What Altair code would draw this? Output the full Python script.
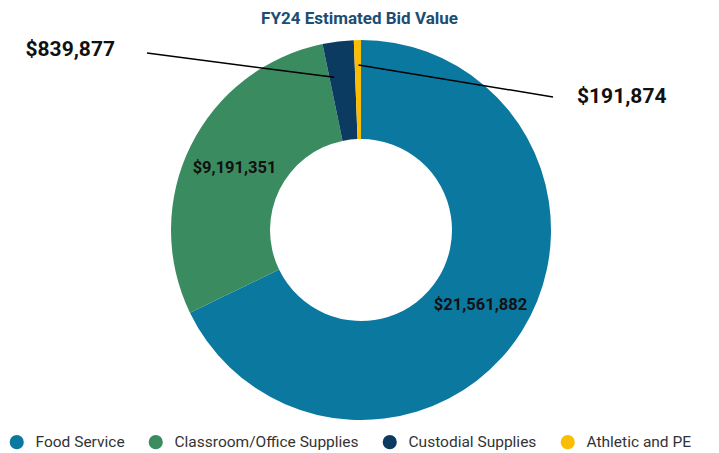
import math
import altair as alt
import pandas as pd

# ---- data ----
categories = ["Food Service", "Classroom/Office Supplies", "Custodial Supplies", "Athletic and PE"]
values = [21561882, 9191351, 839877, 191874]
colors = ["#0b78a0", "#3a8c60", "#0c3b62", "#fbbc04"]
label_inside = [True, True, False, False]

# ---- layout constants ----
W, H = 703, 415
PAD_TOP = 30
CX, CY = 353, 192
R_OUT, R_IN = 190, 91
R_LABEL = 141
FONT = "Roboto"

total = sum(values)
df = pd.DataFrame({"category": categories, "value": values, "order": list(range(len(values)))})
df["label"] = [("$" + f"{v:,}") if ins else "" for v, ins in zip(values, label_inside)]

# leader lines for the small slices: start inside the slice (angle derived from data)
starts = []
acc = 0
for v in values:
    starts.append(acc)
    acc += v
anchor_frac = {2: 0.18, 3: 0.6}
anchor_r = {2: 155, 3: 165}
label_end = {2: (139, 15), 3: (545, 59)}          # outer end of leader line (px)
label_pos = {2: (107, 12, "right"), 3: (569, 59, "left")}
rows = []
for i, f in anchor_frac.items():
    ang = 2 * math.pi * (starts[i] + f * values[i]) / total
    x0 = CX + anchor_r[i] * math.sin(ang)
    y0 = CY - anchor_r[i] * math.cos(ang)
    ex, ey = label_end[i]
    lx, ly, al = label_pos[i]
    rows.append({"x": x0, "y": y0, "x2": ex, "y2": ey, "lx": lx, "ly": ly,
                 "align": al, "text": "$" + f"{values[i]:,}"})
lines = pd.DataFrame(rows)

color_scale = alt.Scale(domain=categories, range=colors)

base = alt.Chart(df).encode(
    theta=alt.Theta("value:Q", stack=True),
    order=alt.Order("order:Q", sort="ascending"),
)

arcs = base.mark_arc(innerRadius=R_IN, outerRadius=R_OUT).encode(
    color=alt.Color("category:N", scale=color_scale, sort=categories,
                    legend=alt.Legend(title=None, orient="none", direction="horizontal",
                                      legendX=1, legendY=396, symbolType="circle",
                                      symbolSize=200, symbolStrokeWidth=0,
                                      labelFont=FONT, labelFontSize=15.5, labelColor="#333333",
                                      labelLimit=400, columnPadding=23, labelOffset=11)),
    x=alt.value(CX), y=alt.value(CY),
)

inner_text = base.mark_text(radius=R_LABEL, font=FONT, fontSize=16.5, fontWeight="bold",
                            color="#111111").encode(
    text="label:N", x=alt.value(CX), y=alt.value(CY),
)

rules = alt.Chart(lines).mark_rule(color="#000000", strokeWidth=1.5).encode(
    x=alt.X("x:Q", scale=None), y=alt.Y("y:Q", scale=None),
    x2="x2:Q", y2="y2:Q",
)

left_lbl = alt.Chart(lines[lines["align"] == "right"]).mark_text(
    font=FONT, fontSize=21, fontWeight="bold", color="#111111", align="right", baseline="middle"
).encode(x=alt.X("lx:Q", scale=None), y=alt.Y("ly:Q", scale=None), text="text:N")

right_lbl = alt.Chart(lines[lines["align"] == "left"]).mark_text(
    font=FONT, fontSize=21, fontWeight="bold", color="#111111", align="left", baseline="middle"
).encode(x=alt.X("lx:Q", scale=None), y=alt.Y("ly:Q", scale=None), text="text:N")

chart = alt.layer(arcs, inner_text, rules, left_lbl, right_lbl).properties(
    width=W, height=H,
    title=alt.Title("FY24 Estimated Bid Value", font=FONT, fontSize=17, fontWeight="bold",
                    color="#1b4d75", anchor="middle", offset=10),
    autosize=alt.AutoSizeParams(type="none"),
    padding={"left": 0, "top": PAD_TOP, "right": 0, "bottom": 0},
).configure_view(stroke=None)

chart.save("out.html", embed_options={"renderer": "svg", "actions": False})
